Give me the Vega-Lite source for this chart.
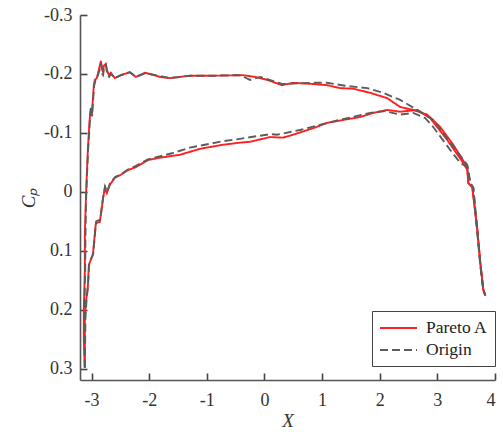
{
  "$schema": "https://vega.github.io/schema/vega-lite/v6.json",
  "width": 415,
  "height": 365,
  "autosize": {"type": "none"},
  "padding": {"left": 80, "top": 15, "right": 8, "bottom": 52},
  "background": "white",
  "config": {
    "view": {"stroke": null},
    "font": "Times New Roman, Liberation Serif, serif",
    "axis": {
      "grid": false,
      "domainColor": "#555555",
      "domainWidth": 1.6,
      "tickColor": "#444444",
      "tickWidth": 1.6,
      "tickSize": -7,
      "labelFont": "Times New Roman, Liberation Serif, serif",
      "labelFontSize": 18,
      "labelColor": "#333333",
      "titleFont": "Times New Roman, Liberation Serif, serif",
      "titleFontSize": 19,
      "titleFontStyle": "italic",
      "titleFontWeight": "normal",
      "titleColor": "#333333"
    },
    "legend": {
      "labelFont": "Times New Roman, Liberation Serif, serif",
      "labelFontSize": 17.5,
      "labelColor": "#222222"
    }
  },
  "data": {
    "values": [
      {"s": "Pareto A", "f": "u", "i": 1, "x": -3.116, "y": 0.298},
      {"s": "Pareto A", "f": "u", "i": 2, "x": -3.134, "y": 0.251},
      {"s": "Pareto A", "f": "u", "i": 3, "x": -3.134, "y": 0.2},
      {"s": "Pareto A", "f": "u", "i": 4, "x": -3.116, "y": 0.132},
      {"s": "Pareto A", "f": "u", "i": 5, "x": -3.116, "y": 0.073},
      {"s": "Pareto A", "f": "u", "i": 6, "x": -3.099, "y": 0.014},
      {"s": "Pareto A", "f": "u", "i": 7, "x": -3.082, "y": -0.029},
      {"s": "Pareto A", "f": "u", "i": 8, "x": -3.064, "y": -0.071},
      {"s": "Pareto A", "f": "u", "i": 9, "x": -3.047, "y": -0.1},
      {"s": "Pareto A", "f": "u", "i": 10, "x": -3.03, "y": -0.125},
      {"s": "Pareto A", "f": "u", "i": 11, "x": -3.012, "y": -0.142},
      {"s": "Pareto A", "f": "u", "i": 12, "x": -2.995, "y": -0.132},
      {"s": "Pareto A", "f": "u", "i": 13, "x": -2.977, "y": -0.156},
      {"s": "Pareto A", "f": "u", "i": 14, "x": -2.96, "y": -0.181},
      {"s": "Pareto A", "f": "u", "i": 15, "x": -2.943, "y": -0.19},
      {"s": "Pareto A", "f": "u", "i": 16, "x": -2.908, "y": -0.193},
      {"s": "Pareto A", "f": "u", "i": 17, "x": -2.873, "y": -0.207},
      {"s": "Pareto A", "f": "u", "i": 18, "x": -2.838, "y": -0.222},
      {"s": "Pareto A", "f": "u", "i": 19, "x": -2.821, "y": -0.21},
      {"s": "Pareto A", "f": "u", "i": 20, "x": -2.804, "y": -0.203},
      {"s": "Pareto A", "f": "u", "i": 21, "x": -2.786, "y": -0.214},
      {"s": "Pareto A", "f": "u", "i": 22, "x": -2.752, "y": -0.217},
      {"s": "Pareto A", "f": "u", "i": 23, "x": -2.734, "y": -0.207},
      {"s": "Pareto A", "f": "u", "i": 24, "x": -2.699, "y": -0.198},
      {"s": "Pareto A", "f": "u", "i": 25, "x": -2.665, "y": -0.202},
      {"s": "Pareto A", "f": "u", "i": 26, "x": -2.595, "y": -0.193},
      {"s": "Pareto A", "f": "u", "i": 27, "x": -2.491, "y": -0.198},
      {"s": "Pareto A", "f": "u", "i": 28, "x": -2.335, "y": -0.203},
      {"s": "Pareto A", "f": "u", "i": 29, "x": -2.231, "y": -0.195},
      {"s": "Pareto A", "f": "u", "i": 30, "x": -2.074, "y": -0.202},
      {"s": "Pareto A", "f": "u", "i": 31, "x": -1.987, "y": -0.2},
      {"s": "Pareto A", "f": "u", "i": 32, "x": -1.814, "y": -0.195},
      {"s": "Pareto A", "f": "u", "i": 33, "x": -1.64, "y": -0.193},
      {"s": "Pareto A", "f": "u", "i": 34, "x": -1.293, "y": -0.197},
      {"s": "Pareto A", "f": "u", "i": 35, "x": -0.893, "y": -0.197},
      {"s": "Pareto A", "f": "u", "i": 36, "x": -0.372, "y": -0.198},
      {"s": "Pareto A", "f": "u", "i": 37, "x": -0.163, "y": -0.195},
      {"s": "Pareto A", "f": "u", "i": 38, "x": 0.047, "y": -0.19},
      {"s": "Pareto A", "f": "u", "i": 39, "x": 0.305, "y": -0.181},
      {"s": "Pareto A", "f": "u", "i": 40, "x": 0.497, "y": -0.185},
      {"s": "Pareto A", "f": "u", "i": 41, "x": 0.844, "y": -0.183},
      {"s": "Pareto A", "f": "u", "i": 42, "x": 1.087, "y": -0.181},
      {"s": "Pareto A", "f": "u", "i": 43, "x": 1.313, "y": -0.176},
      {"s": "Pareto A", "f": "u", "i": 44, "x": 1.539, "y": -0.175},
      {"s": "Pareto A", "f": "u", "i": 45, "x": 1.835, "y": -0.168},
      {"s": "Pareto A", "f": "u", "i": 46, "x": 2.13, "y": -0.159},
      {"s": "Pareto A", "f": "u", "i": 47, "x": 2.355, "y": -0.144},
      {"s": "Pareto A", "f": "u", "i": 48, "x": 2.581, "y": -0.139},
      {"s": "Pareto A", "f": "u", "i": 49, "x": 2.825, "y": -0.131},
      {"s": "Pareto A", "f": "u", "i": 50, "x": 3.05, "y": -0.11},
      {"s": "Pareto A", "f": "u", "i": 51, "x": 3.276, "y": -0.08},
      {"s": "Pareto A", "f": "u", "i": 52, "x": 3.52, "y": -0.042},
      {"s": "Pareto A", "f": "u", "i": 53, "x": 3.537, "y": -0.015},
      {"s": "Pareto A", "f": "u", "i": 54, "x": 3.606, "y": -0.008},
      {"s": "Pareto A", "f": "u", "i": 55, "x": 3.693, "y": 0.064},
      {"s": "Pareto A", "f": "u", "i": 56, "x": 3.745, "y": 0.12},
      {"s": "Pareto A", "f": "u", "i": 57, "x": 3.797, "y": 0.166},
      {"s": "Pareto A", "f": "u", "i": 58, "x": 3.832, "y": 0.175},

      {"s": "Pareto A", "f": "l", "i": 1, "x": -3.116, "y": 0.298},
      {"s": "Pareto A", "f": "l", "i": 2, "x": -3.116, "y": 0.251},
      {"s": "Pareto A", "f": "l", "i": 3, "x": -3.116, "y": 0.214},
      {"s": "Pareto A", "f": "l", "i": 4, "x": -3.099, "y": 0.188},
      {"s": "Pareto A", "f": "l", "i": 5, "x": -3.064, "y": 0.161},
      {"s": "Pareto A", "f": "l", "i": 6, "x": -3.047, "y": 0.124},
      {"s": "Pareto A", "f": "l", "i": 7, "x": -3.012, "y": 0.115},
      {"s": "Pareto A", "f": "l", "i": 8, "x": -2.977, "y": 0.107},
      {"s": "Pareto A", "f": "l", "i": 9, "x": -2.925, "y": 0.053},
      {"s": "Pareto A", "f": "l", "i": 10, "x": -2.856, "y": 0.051},
      {"s": "Pareto A", "f": "l", "i": 11, "x": -2.804, "y": 0.014},
      {"s": "Pareto A", "f": "l", "i": 12, "x": -2.769, "y": -0.007},
      {"s": "Pareto A", "f": "l", "i": 13, "x": -2.734, "y": 0.002},
      {"s": "Pareto A", "f": "l", "i": 14, "x": -2.682, "y": -0.012},
      {"s": "Pareto A", "f": "l", "i": 15, "x": -2.595, "y": -0.024},
      {"s": "Pareto A", "f": "l", "i": 16, "x": -2.491, "y": -0.029},
      {"s": "Pareto A", "f": "l", "i": 17, "x": -2.369, "y": -0.037},
      {"s": "Pareto A", "f": "l", "i": 18, "x": -2.231, "y": -0.042},
      {"s": "Pareto A", "f": "l", "i": 19, "x": -2.022, "y": -0.054},
      {"s": "Pareto A", "f": "l", "i": 20, "x": -1.814, "y": -0.058},
      {"s": "Pareto A", "f": "l", "i": 21, "x": -1.466, "y": -0.063},
      {"s": "Pareto A", "f": "l", "i": 22, "x": -1.119, "y": -0.073},
      {"s": "Pareto A", "f": "l", "i": 23, "x": -0.719, "y": -0.08},
      {"s": "Pareto A", "f": "l", "i": 24, "x": -0.476, "y": -0.083},
      {"s": "Pareto A", "f": "l", "i": 25, "x": -0.25, "y": -0.085},
      {"s": "Pareto A", "f": "l", "i": 26, "x": 0.099, "y": -0.093},
      {"s": "Pareto A", "f": "l", "i": 27, "x": 0.323, "y": -0.092},
      {"s": "Pareto A", "f": "l", "i": 28, "x": 0.497, "y": -0.097},
      {"s": "Pareto A", "f": "l", "i": 29, "x": 0.844, "y": -0.108},
      {"s": "Pareto A", "f": "l", "i": 30, "x": 1.087, "y": -0.117},
      {"s": "Pareto A", "f": "l", "i": 31, "x": 1.365, "y": -0.122},
      {"s": "Pareto A", "f": "l", "i": 32, "x": 1.661, "y": -0.127},
      {"s": "Pareto A", "f": "l", "i": 33, "x": 1.887, "y": -0.134},
      {"s": "Pareto A", "f": "l", "i": 34, "x": 2.13, "y": -0.139},
      {"s": "Pareto A", "f": "l", "i": 35, "x": 2.355, "y": -0.136},
      {"s": "Pareto A", "f": "l", "i": 36, "x": 2.651, "y": -0.139},
      {"s": "Pareto A", "f": "l", "i": 37, "x": 2.877, "y": -0.125},
      {"s": "Pareto A", "f": "l", "i": 38, "x": 3.172, "y": -0.088},
      {"s": "Pareto A", "f": "l", "i": 39, "x": 3.45, "y": -0.049},
      {"s": "Pareto A", "f": "l", "i": 40, "x": 3.52, "y": -0.037},
      {"s": "Pareto A", "f": "l", "i": 41, "x": 3.537, "y": -0.015},
      {"s": "Pareto A", "f": "l", "i": 42, "x": 3.606, "y": -0.008},
      {"s": "Pareto A", "f": "l", "i": 43, "x": 3.693, "y": 0.064},
      {"s": "Pareto A", "f": "l", "i": 44, "x": 3.745, "y": 0.12},
      {"s": "Pareto A", "f": "l", "i": 45, "x": 3.797, "y": 0.166},
      {"s": "Pareto A", "f": "l", "i": 46, "x": 3.832, "y": 0.175},

      {"s": "Origin", "f": "u", "i": 1, "x": -3.116, "y": 0.298},
      {"s": "Origin", "f": "u", "i": 2, "x": -3.125, "y": 0.251},
      {"s": "Origin", "f": "u", "i": 3, "x": -3.125, "y": 0.2},
      {"s": "Origin", "f": "u", "i": 4, "x": -3.11, "y": 0.132},
      {"s": "Origin", "f": "u", "i": 5, "x": -3.105, "y": 0.073},
      {"s": "Origin", "f": "u", "i": 6, "x": -3.095, "y": 0.014},
      {"s": "Origin", "f": "u", "i": 7, "x": -3.078, "y": -0.029},
      {"s": "Origin", "f": "u", "i": 8, "x": -3.06, "y": -0.071},
      {"s": "Origin", "f": "u", "i": 9, "x": -3.04, "y": -0.1},
      {"s": "Origin", "f": "u", "i": 10, "x": -3.025, "y": -0.13},
      {"s": "Origin", "f": "u", "i": 11, "x": -3.005, "y": -0.145},
      {"s": "Origin", "f": "u", "i": 12, "x": -2.99, "y": -0.128},
      {"s": "Origin", "f": "u", "i": 13, "x": -2.97, "y": -0.16},
      {"s": "Origin", "f": "u", "i": 14, "x": -2.955, "y": -0.18},
      {"s": "Origin", "f": "u", "i": 15, "x": -2.935, "y": -0.188},
      {"s": "Origin", "f": "u", "i": 16, "x": -2.9, "y": -0.195},
      {"s": "Origin", "f": "u", "i": 17, "x": -2.865, "y": -0.205},
      {"s": "Origin", "f": "u", "i": 18, "x": -2.832, "y": -0.218},
      {"s": "Origin", "f": "u", "i": 19, "x": -2.815, "y": -0.2},
      {"s": "Origin", "f": "u", "i": 20, "x": -2.8, "y": -0.198},
      {"s": "Origin", "f": "u", "i": 21, "x": -2.78, "y": -0.212},
      {"s": "Origin", "f": "u", "i": 22, "x": -2.748, "y": -0.215},
      {"s": "Origin", "f": "u", "i": 23, "x": -2.73, "y": -0.2},
      {"s": "Origin", "f": "u", "i": 24, "x": -2.695, "y": -0.195},
      {"s": "Origin", "f": "u", "i": 25, "x": -2.66, "y": -0.2},
      {"s": "Origin", "f": "u", "i": 26, "x": -2.595, "y": -0.193},
      {"s": "Origin", "f": "u", "i": 27, "x": -2.491, "y": -0.198},
      {"s": "Origin", "f": "u", "i": 28, "x": -2.335, "y": -0.203},
      {"s": "Origin", "f": "u", "i": 29, "x": -2.231, "y": -0.195},
      {"s": "Origin", "f": "u", "i": 30, "x": -2.074, "y": -0.201},
      {"s": "Origin", "f": "u", "i": 31, "x": -1.987, "y": -0.2},
      {"s": "Origin", "f": "u", "i": 32, "x": -1.64, "y": -0.193},
      {"s": "Origin", "f": "u", "i": 33, "x": -1.293, "y": -0.197},
      {"s": "Origin", "f": "u", "i": 34, "x": -0.893, "y": -0.197},
      {"s": "Origin", "f": "u", "i": 35, "x": -0.424, "y": -0.198},
      {"s": "Origin", "f": "u", "i": 36, "x": -0.25, "y": -0.19},
      {"s": "Origin", "f": "u", "i": 37, "x": -0.075, "y": -0.195},
      {"s": "Origin", "f": "u", "i": 38, "x": 0.305, "y": -0.183},
      {"s": "Origin", "f": "u", "i": 39, "x": 0.844, "y": -0.185},
      {"s": "Origin", "f": "u", "i": 40, "x": 1.087, "y": -0.185},
      {"s": "Origin", "f": "u", "i": 41, "x": 1.4, "y": -0.18},
      {"s": "Origin", "f": "u", "i": 42, "x": 1.783, "y": -0.176},
      {"s": "Origin", "f": "u", "i": 43, "x": 2.06, "y": -0.168},
      {"s": "Origin", "f": "u", "i": 44, "x": 2.355, "y": -0.156},
      {"s": "Origin", "f": "u", "i": 45, "x": 2.651, "y": -0.139},
      {"s": "Origin", "f": "u", "i": 46, "x": 2.929, "y": -0.122},
      {"s": "Origin", "f": "u", "i": 47, "x": 3.224, "y": -0.083},
      {"s": "Origin", "f": "u", "i": 48, "x": 3.52, "y": -0.046},
      {"s": "Origin", "f": "u", "i": 49, "x": 3.572, "y": -0.015},
      {"s": "Origin", "f": "u", "i": 50, "x": 3.624, "y": -0.007},
      {"s": "Origin", "f": "u", "i": 51, "x": 3.693, "y": 0.068},
      {"s": "Origin", "f": "u", "i": 52, "x": 3.745, "y": 0.124},
      {"s": "Origin", "f": "u", "i": 53, "x": 3.797, "y": 0.166},
      {"s": "Origin", "f": "u", "i": 54, "x": 3.832, "y": 0.176},

      {"s": "Origin", "f": "l", "i": 1, "x": -3.116, "y": 0.298},
      {"s": "Origin", "f": "l", "i": 2, "x": -3.11, "y": 0.251},
      {"s": "Origin", "f": "l", "i": 3, "x": -3.105, "y": 0.214},
      {"s": "Origin", "f": "l", "i": 4, "x": -3.09, "y": 0.188},
      {"s": "Origin", "f": "l", "i": 5, "x": -3.06, "y": 0.158},
      {"s": "Origin", "f": "l", "i": 6, "x": -3.04, "y": 0.122},
      {"s": "Origin", "f": "l", "i": 7, "x": -3.005, "y": 0.113},
      {"s": "Origin", "f": "l", "i": 8, "x": -2.97, "y": 0.104},
      {"s": "Origin", "f": "l", "i": 9, "x": -2.92, "y": 0.05},
      {"s": "Origin", "f": "l", "i": 10, "x": -2.85, "y": 0.047},
      {"s": "Origin", "f": "l", "i": 11, "x": -2.8, "y": 0.01},
      {"s": "Origin", "f": "l", "i": 12, "x": -2.765, "y": -0.009},
      {"s": "Origin", "f": "l", "i": 13, "x": -2.73, "y": 0.0},
      {"s": "Origin", "f": "l", "i": 14, "x": -2.682, "y": -0.014},
      {"s": "Origin", "f": "l", "i": 15, "x": -2.595, "y": -0.025},
      {"s": "Origin", "f": "l", "i": 16, "x": -2.491, "y": -0.03},
      {"s": "Origin", "f": "l", "i": 17, "x": -2.369, "y": -0.038},
      {"s": "Origin", "f": "l", "i": 18, "x": -2.231, "y": -0.044},
      {"s": "Origin", "f": "l", "i": 19, "x": -2.022, "y": -0.055},
      {"s": "Origin", "f": "l", "i": 20, "x": -1.588, "y": -0.066},
      {"s": "Origin", "f": "l", "i": 21, "x": -1.293, "y": -0.075},
      {"s": "Origin", "f": "l", "i": 22, "x": -0.719, "y": -0.086},
      {"s": "Origin", "f": "l", "i": 23, "x": -0.424, "y": -0.09},
      {"s": "Origin", "f": "l", "i": 24, "x": 0.099, "y": -0.098},
      {"s": "Origin", "f": "l", "i": 25, "x": 0.218, "y": -0.097},
      {"s": "Origin", "f": "l", "i": 26, "x": 0.618, "y": -0.105},
      {"s": "Origin", "f": "l", "i": 27, "x": 1.087, "y": -0.117},
      {"s": "Origin", "f": "l", "i": 28, "x": 1.435, "y": -0.125},
      {"s": "Origin", "f": "l", "i": 29, "x": 1.835, "y": -0.134},
      {"s": "Origin", "f": "l", "i": 30, "x": 2.095, "y": -0.137},
      {"s": "Origin", "f": "l", "i": 31, "x": 2.355, "y": -0.131},
      {"s": "Origin", "f": "l", "i": 32, "x": 2.581, "y": -0.134},
      {"s": "Origin", "f": "l", "i": 33, "x": 2.79, "y": -0.125},
      {"s": "Origin", "f": "l", "i": 34, "x": 2.929, "y": -0.11},
      {"s": "Origin", "f": "l", "i": 35, "x": 3.224, "y": -0.071},
      {"s": "Origin", "f": "l", "i": 36, "x": 3.398, "y": -0.049},
      {"s": "Origin", "f": "l", "i": 37, "x": 3.52, "y": -0.042},
      {"s": "Origin", "f": "l", "i": 38, "x": 3.572, "y": -0.015},
      {"s": "Origin", "f": "l", "i": 39, "x": 3.624, "y": -0.007},
      {"s": "Origin", "f": "l", "i": 40, "x": 3.693, "y": 0.068},
      {"s": "Origin", "f": "l", "i": 41, "x": 3.745, "y": 0.124},
      {"s": "Origin", "f": "l", "i": 42, "x": 3.797, "y": 0.166},
      {"s": "Origin", "f": "l", "i": 43, "x": 3.832, "y": 0.176}
    ]
  },
  "encoding": {
    "x": {
      "field": "x",
      "type": "quantitative",
      "scale": {"domain": [-3.2, 4], "nice": false, "zero": false},
      "axis": {
        "values": [-3, -2, -1, 0, 1, 2, 3, 4],
        "title": "X",
        "labelPadding": 18,
        "titlePadding": 2,
        "labelExpr": "replace(format(datum.value, 'd'), '\u2212', '-')"
      }
    },
    "y": {
      "field": "y",
      "type": "quantitative",
      "scale": {"domain": [-0.3, 0.319], "reverse": true, "nice": false, "zero": false},
      "axis": {
        "values": [-0.3, -0.2, -0.1, 0, 0.1, 0.2, 0.3],
        "title": "Cₚ",
        "labelPadding": 15,
        "titlePadding": 5,
        "labelExpr": "replace(format(datum.value, '.1~f'), '\u2212', '-')"
      }
    },
    "color": {
      "field": "s",
      "type": "nominal",
      "scale": {"domain": ["Pareto A", "Origin"], "range": ["#ff1f1f", "#5c5c5c"]},
      "legend": {
        "title": null,
        "orient": "none",
        "legendX": 292,
        "legendY": 296,
        "symbolType": "M-1,0H3.11",
        "symbolSize": 324,
        "symbolStrokeWidth": 1.8,
        "strokeColor": "#444444",
        "fillColor": "white",
        "padding": 7,
        "labelOffset": 27,
        "rowPadding": 3
      }
    },
    "strokeDash": {
      "field": "s",
      "type": "nominal",
      "scale": {"domain": ["Pareto A", "Origin"], "range": [[1, 0], [8, 4]]},
      "legend": null
    },
    "detail": {"field": "f"},
    "order": {"field": "i", "type": "quantitative"}
  },
  "layer": [
    {
      "transform": [{"filter": "datum.s == 'Pareto A'"}],
      "mark": {"type": "line", "strokeWidth": 1.9}
    },
    {
      "transform": [{"filter": "datum.s == 'Origin'"}],
      "mark": {"type": "line", "strokeWidth": 1.9}
    }
  ]
}
